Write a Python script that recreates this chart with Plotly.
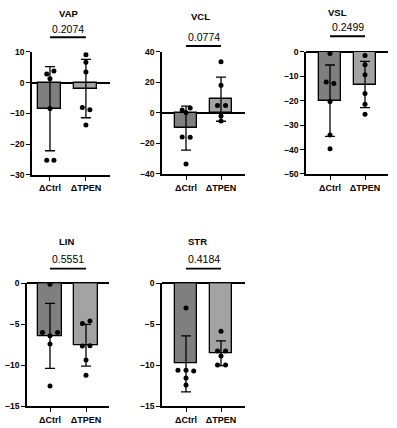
import numpy as np
import plotly.graph_objects as go

categories = ["ΔCtrl", "ΔTPEN"]
panels = ["VAP", "VCL", "VSL", "LIN", "STR"]
p_values = ["0.2074", "0.0774", "0.2499", "0.5551", "0.4184"]

vap_ctrl = [2.8, 3.8, 1.3, -8.4, -25.2, -25.2]
vap_tpen = [9.1, 6.6, 3.5, -8.1, -8.8, -13.8]
vcl_ctrl = [1.9, 3.2, 0.2, -15.7, -16.0, -33.4]
vcl_tpen = [33.6, 18.1, 4.9, 4.9, -2.1, -5.3]
vsl_ctrl = [-0.7, -12.3, -12.9, -20.3, -34.0, -39.7]
vsl_tpen = [-1.5, -5.3, -9.4, -17.0, -21.4, -25.5]
lin_ctrl = [-0.1, -6.0, -6.0, -6.4, -7.4, -12.5]
lin_tpen = [-4.9, -4.6, -7.65, -7.6, -9.35, -11.2]
str_ctrl = [-3.0, -10.6, -10.7, -10.6, -11.55, -12.4]
str_tpen = [-5.85, -8.25, -8.25, -8.85, -9.95, -9.95]

data = {
    "VAP": (vap_ctrl, vap_tpen),
    "VCL": (vcl_ctrl, vcl_tpen),
    "VSL": (vsl_ctrl, vsl_tpen),
    "LIN": (lin_ctrl, lin_tpen),
    "STR": (str_ctrl, str_tpen),
}

# horizontal spread of overlapping dots (category units) -- layout only
spread = {
    "VAP": ([-0.09, 0.11, 0, 0, -0.09, 0.11], [0, 0, 0, -0.1, 0.11, 0]),
    "VCL": ([-0.11, 0.12, 0, -0.11, 0.12, 0], [0, 0, -0.1, 0.13, 0, 0]),
    "VSL": ([0, -0.11, 0.11, 0, 0, 0], [0, 0, 0, 0, 0, 0]),
    "LIN": ([0, -0.21, 0.21, 0, 0, 0], [-0.1, 0.11, -0.1, 0.11, 0, 0]),
    "STR": ([0, -0.23, 0.22, 0, 0, 0], [0, -0.1, 0.13, 0, -0.1, 0.13]),
}

W, H = 397, 428
# layout in pixels: x0, x1, ytop, ybot, yrange, dtick, xrange, title x, title y, p y, line y
layout_px = {
    "VAP": (32, 110, 48, 174, [-30, 10], 10, [-0.5, 1.67], 68, 9, 25, 33),
    "VCL": (162, 245, 48, 173, [-40, 40], 20, [-0.686, 1.686], 200, 12, 33, 42),
    "VSL": (306, 388, 48, 173, [-50, 0], 10, [-0.686, 1.657], 337, 8, 23, 32),
    "LIN": (27, 109, 285, 411, [-15, 0], 5, [-0.639, 1.639], 66, 242, 260, 270),
    "STR": (162, 245, 285, 411, [-15, 0], 5, [-0.686, 1.686], 197, 242, 260, 270),
}

bar_colors = ["#7f7f7f", "#a3a3a3"]
FONT = "Liberation Sans, Arial, sans-serif"

fig = go.Figure()
annotations = []
shapes = []
layout_axes = {}

for i, name in enumerate(panels):
    ax = "" if i == 0 else str(i + 1)
    xref, yref = "x" + ax, "y" + ax
    x0, x1, yt, yb, yr, dt, xr, tx, ty, py, ly = layout_px[name]
    groups = data[name]
    means = [float(np.mean(g)) for g in groups]
    sds = [float(np.std(g, ddof=1)) for g in groups]

    fig.add_trace(go.Bar(
        x=[0, 1], y=means, width=0.64,
        marker=dict(color=bar_colors, line=dict(color="black", width=1.3)),
        error_y=dict(type="data", array=sds, visible=True, color="black",
                     thickness=1.3, width=5),
        xaxis=xref, yaxis=yref, showlegend=False, hoverinfo="skip",
    ))
    for k, g in enumerate(groups):
        fig.add_trace(go.Scatter(
            x=[k + o for o in spread[name][k]], y=g, mode="markers",
            marker=dict(color="black", size=5),
            xaxis=xref, yaxis=yref, showlegend=False, hoverinfo="skip",
        ))

    layout_axes["xaxis" + ax] = dict(
        domain=[x0 / W, x1 / W], range=xr, anchor=yref,
        tickmode="array", tickvals=[0, 1], ticktext=categories,
        showline=True, linecolor="black", linewidth=1.5,
        ticks="outside", ticklen=4, tickwidth=1.3, tickcolor="black",
        showgrid=False, zeroline=False, fixedrange=True,
        tickfont=dict(family=FONT, size=9, color="black", weight="bold"),
    )
    layout_axes["yaxis" + ax] = dict(
        domain=[1 - yb / H, 1 - yt / H], range=yr, anchor=xref,
        dtick=dt, tick0=0,
        showline=True, linecolor="black", linewidth=1.5,
        ticks="outside", ticklen=4, tickwidth=1.3, tickcolor="black",
        showgrid=False, zeroline=True, zerolinecolor="black", zerolinewidth=1.5,
        tickfont=dict(family=FONT, size=8.5, color="black", weight="bold"),
        fixedrange=True,
    )
    annotations.append(dict(
        text="<b>" + name + "</b>", x=tx / W, y=1 - ty / H, xref="paper", yref="paper",
        showarrow=False, xanchor="center", yanchor="middle",
        font=dict(family=FONT, size=9.5, color="black"),
    ))
    annotations.append(dict(
        text=p_values[i], x=0.5, y=1 - py / H, xref=xref, yref="paper",
        showarrow=False, xanchor="center", yanchor="middle",
        font=dict(family=FONT, size=10.5, color="black"),
    ))
    shapes.append(dict(
        type="line", x0=0, x1=1, y0=1 - ly / H, y1=1 - ly / H,
        xref=xref, yref="paper", line=dict(color="black", width=1.8),
    ))

fig.update_layout(
    width=W, height=H, margin=dict(l=0, r=0, t=0, b=0),
    paper_bgcolor="white", plot_bgcolor="white",
    annotations=annotations, shapes=shapes, bargap=0,
    **layout_axes,
)

fig.write_html(
    "out.html",
    config={"displayModeBar": False},
    post_script="document.body.style.margin='0';document.body.style.padding='0';",
)
